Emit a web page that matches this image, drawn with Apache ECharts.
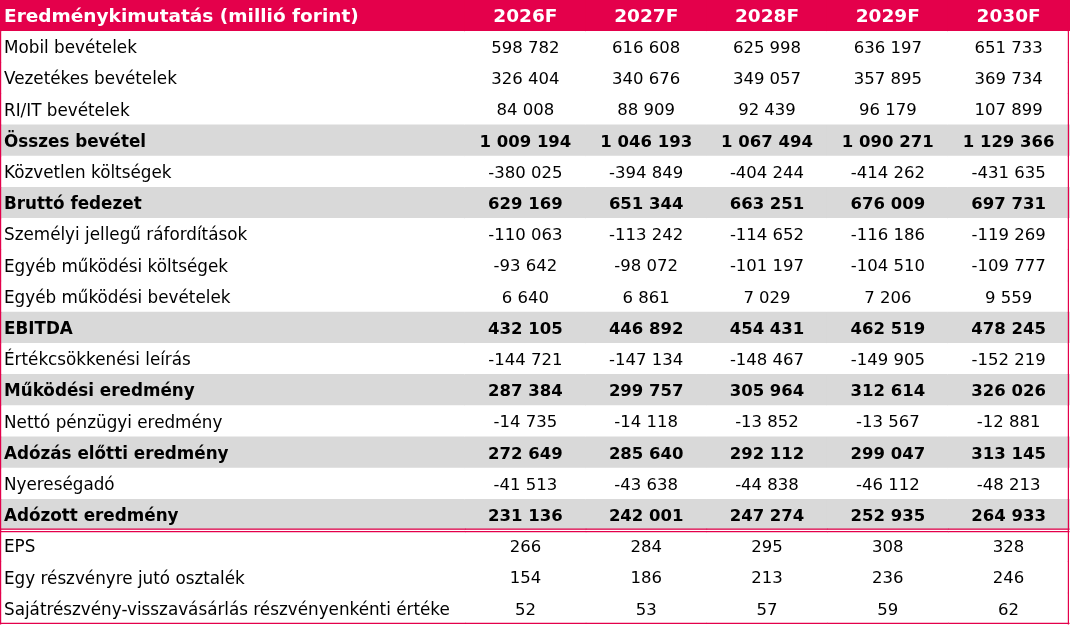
<!DOCTYPE html>
<html>
<head>
<meta charset="utf-8">
<script src="https://cdn.jsdelivr.net/npm/echarts@6/dist/echarts.min.js"></script>
<style>
html,body{margin:0;padding:0;background:#fff;}
#chart{width:1070px;height:626px;}
</style>
</head>
<body>
<div id="chart"></div>
<script>
const tableTitle = 'Eredménykimutatás (millió forint)';
const years = ['2026F', '2027F', '2028F', '2029F', '2030F'];
const rowLabels = [
  'Mobil bevételek',
  'Vezetékes bevételek',
  'RI/IT bevételek',
  'Összes bevétel',
  'Közvetlen költségek',
  'Bruttó fedezet',
  'Személyi jellegű ráfordítások',
  'Egyéb működési költségek',
  'Egyéb működési bevételek',
  'EBITDA',
  'Értékcsökkenési leírás',
  'Működési eredmény',
  'Nettó pénzügyi eredmény',
  'Adózás előtti eredmény',
  'Nyereségadó',
  'Adózott eredmény',
  'EPS',
  'Egy részvényre jutó osztalék',
  'Sajátrészvény-visszavásárlás részvényenkénti értéke'
];
const values2026 = [598782, 326404, 84008, 1009194, -380025, 629169, -110063, -93642, 6640, 432105, -144721, 287384, -14735, 272649, -41513, 231136, 266, 154, 52];
const values2027 = [616608, 340676, 88909, 1046193, -394849, 651344, -113242, -98072, 6861, 446892, -147134, 299757, -14118, 285640, -43638, 242001, 284, 186, 53];
const values2028 = [625998, 349057, 92439, 1067494, -404244, 663251, -114652, -101197, 7029, 454431, -148467, 305964, -13852, 292112, -44838, 247274, 295, 213, 57];
const values2029 = [636197, 357895, 96179, 1090271, -414262, 676009, -116186, -104510, 7206, 462519, -149905, 312614, -13567, 299047, -46112, 252935, 308, 236, 59];
const values2030 = [651733, 369734, 107899, 1129366, -431635, 697731, -119269, -109777, 9559, 478245, -152219, 326026, -12881, 313145, -48213, 264933, 328, 246, 62];
const subtotalRows = ['Összes bevétel', 'Bruttó fedezet', 'EBITDA', 'Működési eredmény', 'Adózás előtti eredmény', 'Adózott eredmény'];
const sectionEndRow = 'Adózott eredmény';

const valueColumns = [values2026, values2027, values2028, values2029, values2030];

const PINK = '#E4004B';
const GRAY = '#D9D9D9';
const FONT = '"DejaVu Sans", sans-serif';
const LABEL_FS = 16.8;
const FS = 16.5;
const HFS = 18.5;

const yCats = [tableTitle].concat(rowLabels);
const lastRow = rowLabels[rowLabels.length - 1];

function fmt(v) {
  const neg = v < 0;
  const s = String(Math.abs(v)).replace(/\B(?=(\d{3})+(?!\d))/g, ' ');
  return (neg ? '-' : '') + s;
}

function buildCell(api, rowIdx, text, isLabel, isFirstCol, isLastCol) {
  const c = api.coord([api.value(0), api.value(1)]);
  const s = api.size([1, 1]);
  const x = c[0] - s[0] / 2, y = c[1] - s[1] / 2, w = s[0], h = s[1];
  const rowName = yCats[rowIdx];
  const isHeader = rowIdx === 0;
  const isSub = subtotalRows.indexOf(rowName) >= 0;
  const fill = isHeader ? PINK : (isSub ? GRAY : '#ffffff');
  const size = isHeader ? HFS : (isLabel ? LABEL_FS : FS);
  const children = [
    { type: 'rect', shape: { x: x - 0.5, y: y - 0.3, width: w + 1.5, height: h + 0.6 }, style: { fill: fill }, z2: 0 },
    {
      type: 'text', z2: 5,
      style: {
        x: isLabel ? x + 4 : c[0], y: c[1] + 2,
        text: text,
        fill: isHeader ? '#ffffff' : '#000000',
        font: ((isHeader || isSub) ? 'bold ' : '') + size + 'px ' + FONT,
        align: isLabel ? 'left' : 'center',
        verticalAlign: 'middle'
      }
    }
  ];
  const line = (x1, y1, x2, y2) => ({ type: 'line', z2: 10, shape: { x1: x1, y1: y1, x2: x2, y2: y2 }, style: { stroke: PINK, lineWidth: 1.2 } });
  if (isFirstCol) children.push(line(x + 0.6, y, x + 0.6, y + h + 0.5));
  if (isLastCol) children.push(line(x + w - 0.6, y, x + w - 0.6, y + h + 0.5));
  if (rowName === sectionEndRow) {
    children.push(line(x, y + h - 1.2, x + w + 0.5, y + h - 1.2));
    children.push(line(x, y + h + 1.3, x + w + 0.5, y + h + 1.3));
  }
  if (rowName === lastRow) children.push(line(x, y + h - 0.6, x + w + 0.5, y + h - 0.6));
  return { type: 'group', children: children };
}

const labelData = yCats.map((name, i) => [0, i, name]);
const valueData = [];
years.forEach((yr, ci) => {
  valueData.push([ci, 0, yr]);
  valueColumns[ci].forEach((v, ri) => valueData.push([ci, ri + 1, fmt(v)]));
});

const chart = echarts.init(document.getElementById('chart'), null, { renderer: 'canvas' });
chart.setOption({
  animation: false,
  backgroundColor: '#ffffff',
  grid: [
    { left: 0, width: 465, top: 0, bottom: 2 },
    { left: 465, right: 1, top: 0, bottom: 2 }
  ],
  xAxis: [
    { type: 'category', gridIndex: 0, data: ['label'], show: false },
    { type: 'category', gridIndex: 1, data: years, show: false }
  ],
  yAxis: [
    { type: 'category', gridIndex: 0, data: yCats, inverse: true, show: false },
    { type: 'category', gridIndex: 1, data: yCats, inverse: true, show: false }
  ],
  series: [
    {
      type: 'custom', xAxisIndex: 0, yAxisIndex: 0, data: labelData,
      renderItem: function (params, api) {
        const ri = api.value(1);
        return buildCell(api, ri, yCats[ri], true, true, false);
      }
    },
    {
      type: 'custom', xAxisIndex: 1, yAxisIndex: 1, data: valueData,
      renderItem: function (params, api) {
        const d = valueData[params.dataIndex];
        return buildCell(api, d[1], d[2], false, false, d[0] === years.length - 1);
      }
    }
  ]
});
</script>
</body>
</html>
